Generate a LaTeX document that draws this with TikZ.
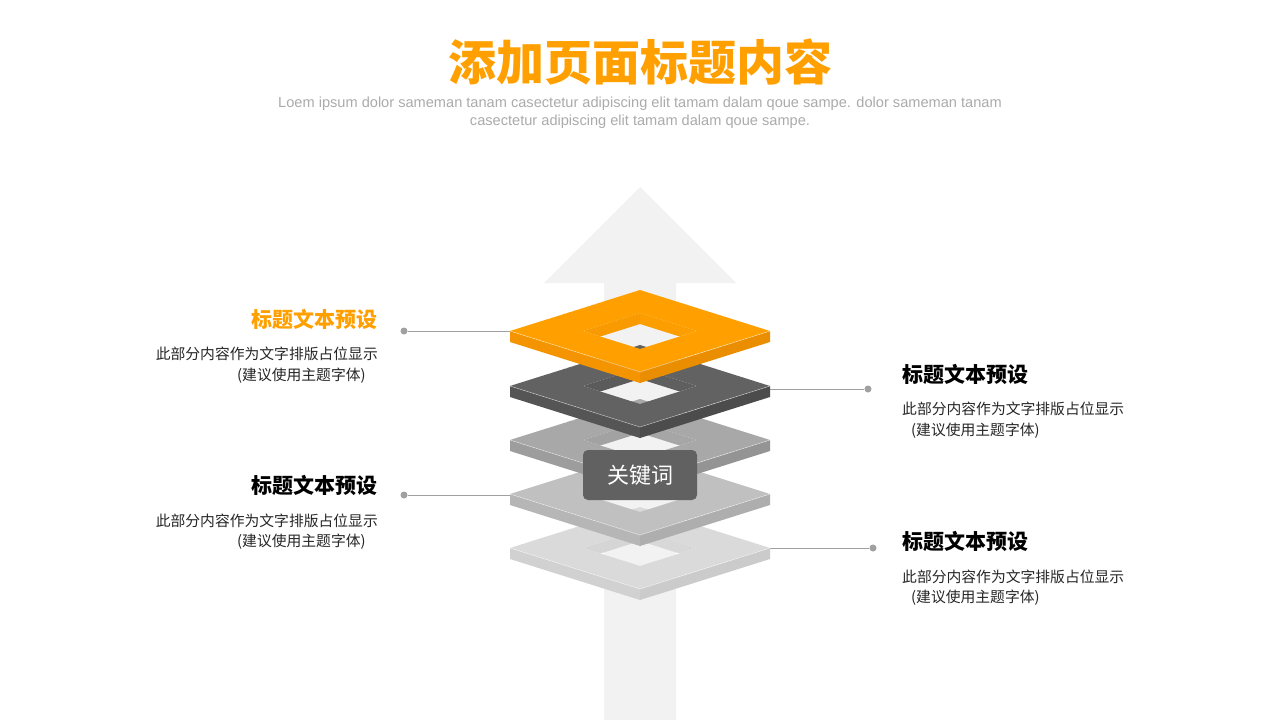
\documentclass[tikz,border=0pt]{standalone}
\usepackage{fontspec}
\setmainfont{Noto Sans CJK SC}
\newfontfamily\latinfont{Liberation Sans}
\definecolor{orng}{HTML}{FFA000}
\definecolor{orngL}{HTML}{F39400}
\definecolor{orngR}{HTML}{EA8E00}
\definecolor{dk}{HTML}{626262}
\definecolor{dkL}{HTML}{555555}
\definecolor{dkR}{HTML}{4C4C4C}
\definecolor{gA}{HTML}{A8A8A8}
\definecolor{gAL}{HTML}{9D9D9D}
\definecolor{gAR}{HTML}{949494}
\definecolor{gB}{HTML}{C0C0C0}
\definecolor{gBL}{HTML}{B6B6B6}
\definecolor{gBR}{HTML}{AEAEAE}
\definecolor{gC}{HTML}{DADADA}
\definecolor{gCL}{HTML}{D1D1D1}
\definecolor{gCR}{HTML}{CBCBCB}
\definecolor{arrowbg}{HTML}{F2F2F2}
\definecolor{linegray}{HTML}{A0A0A0}
\definecolor{subgray}{HTML}{ABABAB}
\definecolor{kwbox}{HTML}{616161}
\newcommand\slab[4]{%
  \begin{scope}[shift={(0,#1)}]
    \fill[#3] (510,0) -- (640,41) -- (640,52) -- (510,11) -- cycle;
    \fill[#4] (640,41) -- (770,0) -- (770,11) -- (640,52) -- cycle;
    \fill[#2,even odd rule] (510,0) -- (640,-41) -- (770,0) -- (640,41) -- cycle
      (583,0) -- (640,-18) -- (697,0) -- (640,18) -- cycle;
    \begin{scope}
      \clip (583,0) -- (640,-18) -- (697,0) -- (640,18) -- cycle;
      \fill[#2!70!#4] (583,0) -- (640,-18) -- (640,-7) -- (583,11) -- cycle;
      \fill[#2!80!#3] (640,-18) -- (697,0) -- (697,11) -- (640,-7) -- cycle;
    \end{scope}
    \draw[white,opacity=0.55,line width=0.5pt] (510,0) -- (640,41) -- (770,0);
    \draw[white,opacity=0.35,line width=0.4pt,dashed] (548,-12) -- (602,-29) (678,29) -- (732,12);
  \end{scope}}
\tikzset{
  conn/.style={draw=linegray, line width=0.9pt},
  dotnode/.style={circle, fill=linegray, inner sep=0pt, minimum size=7pt},
  ttl/.style={inner sep=0pt, font=\bfseries\fontsize{21}{21}\selectfont},
  body/.style={inner sep=0pt, text=black!85, font=\fontsize{14.8}{15}\selectfont},
}
\begin{document}
\begin{tikzpicture}[x=1pt,y=-1pt]
\useasboundingbox (0,0) rectangle (1280,720);
\fill[white] (0,0) rectangle (1280,720);
% title
\node[inner sep=0pt, text=orng, font=\bfseries\fontsize{48}{48}\selectfont] (title) at (640,62) {添加页面标题内容};
\node[inner sep=0pt, text=subgray, font=\latinfont\fontsize{14.6}{14.6}\selectfont] (sub1) at (640,104) {Loem ipsum dolor sameman tanam casectetur adipiscing elit tamam dalam qoue sampe. dolor sameman tanam};
\node[inner sep=0pt, text=subgray, font=\latinfont\fontsize{14.6}{14.6}\selectfont] (sub2) at (640,122) {casectetur adipiscing elit tamam dalam qoue sampe.};
% arrow
\fill[arrowbg] (604,720) -- (604,283) -- (544,283) -- (640,187) -- (736,283) -- (676,283) -- (676,720) -- cycle;
% connectors
\node[dotnode] (d1) at (404,331) {};
\coordinate (e1) at (512,331);
\node[dotnode] (d2) at (868,389) {};
\coordinate (e2) at (768,389);
\node[dotnode] (d3) at (404,495) {};
\coordinate (e3) at (512,495);
\node[dotnode] (d4) at (873,548) {};
\coordinate (e4) at (768,548);
\draw[conn] (d1) -- (e1);
\draw[conn] (d2) -- (e2);
\draw[conn] (d3) -- (e3);
\draw[conn] (d4) -- (e4);
% slabs, bottom to top
\slab{548}{gC}{gCL}{gCR}
\slab{494}{gB}{gBL}{gBR}
\slab{440}{gA}{gAL}{gAR}
\slab{386}{dk}{dkL}{dkR}
\slab{331}{orng}{orngL}{orngR}
% keyword
\node[fill=kwbox, rounded corners=5pt, minimum width=114pt, minimum height=50pt, text=white, font=\fontsize{22}{22}\selectfont] (kw) at (640,475) {关键词};
% left texts
\node[ttl, text=orng, anchor=east] (lt1) at (378,319) {标题文本预设};
\node[body, anchor=east] (lb1a) at (378,354) {此部分内容作为文字排版占位显示};
\node[body, anchor=west] (lb1b) at (237,376) {(建议使用主题字体)};
\node[ttl, text=black, anchor=east] (lt2) at (378,485) {标题文本预设};
\node[body, anchor=east] (lb2a) at (378,521) {此部分内容作为文字排版占位显示};
\node[body, anchor=west] (lb2b) at (237,542) {(建议使用主题字体)};
% right texts
\node[ttl, text=black, anchor=west] (rt1) at (902,374) {标题文本预设};
\node[body, anchor=west] (rb1a) at (902,409) {此部分内容作为文字排版占位显示};
\node[body, anchor=west] (rb1b) at (911,431) {(建议使用主题字体)};
\node[ttl, text=black, anchor=west] (rt2) at (902,541) {标题文本预设};
\node[body, anchor=west] (rb2a) at (902,577) {此部分内容作为文字排版占位显示};
\node[body, anchor=west] (rb2b) at (911,598) {(建议使用主题字体)};
\end{tikzpicture}
\end{document}
